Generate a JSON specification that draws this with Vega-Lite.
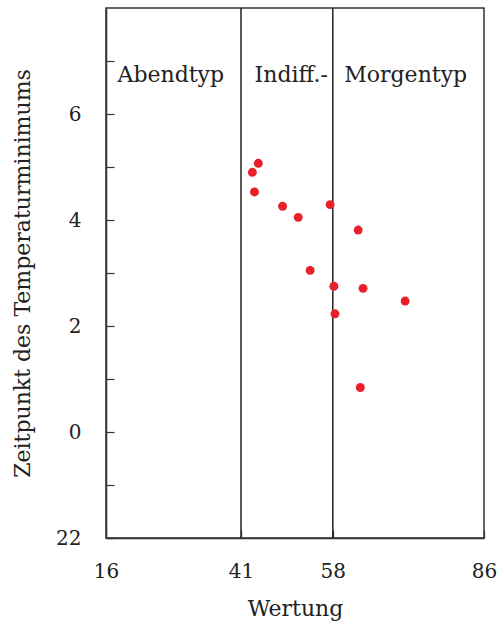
{
  "$schema": "https://vega.github.io/schema/vega-lite/v6.json",
  "width": 378,
  "height": 530,
  "autosize": {"type": "none"},
  "padding": {"left": 106, "top": 8, "right": 15, "bottom": 85},
  "background": "white",
  "datasets": {
    "punkte": [
      {"Wertung": 44.2, "Zeit": 5.07},
      {"Wertung": 43.1, "Zeit": 4.90},
      {"Wertung": 43.5, "Zeit": 4.53},
      {"Wertung": 48.7, "Zeit": 4.26},
      {"Wertung": 57.5, "Zeit": 4.29},
      {"Wertung": 51.6, "Zeit": 4.05},
      {"Wertung": 62.7, "Zeit": 3.81},
      {"Wertung": 53.8, "Zeit": 3.05},
      {"Wertung": 58.2, "Zeit": 2.75},
      {"Wertung": 63.6, "Zeit": 2.71},
      {"Wertung": 71.4, "Zeit": 2.47},
      {"Wertung": 58.4, "Zeit": 2.23},
      {"Wertung": 63.1, "Zeit": 0.84}
    ],
    "grenzen": [{"Wertung": 41}, {"Wertung": 58}],
    "typen": [
      {"Wertung": 28.0, "Zeit": 6.74, "Typ": "Abendtyp"},
      {"Wertung": 50.3, "Zeit": 6.74, "Typ": "Indiff.-"},
      {"Wertung": 71.5, "Zeit": 6.74, "Typ": "Morgentyp"}
    ]
  },
  "config": {
    "view": {"stroke": "#333", "strokeWidth": 1.5},
    "font": "DejaVu Serif",
    "axis": {
      "grid": false,
      "domainColor": "#333",
      "domainWidth": 1.5,
      "tickColor": "#333",
      "tickWidth": 1.2,
      "tickSize": -8,
      "labelFlush": false,
      "labelFont": "DejaVu Serif",
      "labelFontSize": 20,
      "labelColor": "#222",
      "titleFont": "DejaVu Serif",
      "titleFontSize": 22,
      "titleFontWeight": "normal",
      "titleColor": "#222"
    }
  },
  "layer": [
    {
      "data": {"name": "grenzen"},
      "mark": {"type": "rule", "color": "#222", "strokeWidth": 1.5},
      "encoding": {
        "x": {"field": "Wertung", "type": "quantitative", "scale": {"domain": [16, 86], "nice": false, "zero": false}}
      }
    },
    {
      "data": {"name": "punkte"},
      "mark": {"type": "circle", "color": "#e8202a", "opacity": 1, "size": 80},
      "encoding": {
        "x": {
          "field": "Wertung", "type": "quantitative",
          "scale": {"domain": [16, 86], "nice": false, "zero": false},
          "axis": {"values": [16, 41, 58, 86], "title": "Wertung", "labelPadding": 31, "titleX": 189, "titleY": 70, "titleBaseline": "middle", "titleAlign": "center"}
        },
        "y": {
          "field": "Zeit", "type": "quantitative",
          "scale": {"domain": [-2, 8], "nice": false, "zero": false},
          "axis": {
            "values": [-2, -1, 0, 1, 2, 3, 4, 5, 6, 7],
            "labelExpr": "datum.value == -2 ? '22' : (datum.value % 2 == 0 ? datum.label : '')",
            "labelPadding": 33,
            "title": "Zeitpunkt des Temperaturminimums",
            "titleX": -84, "titleY": 265, "titleAngle": -90, "titleBaseline": "middle", "titleAlign": "center"
          }
        }
      }
    },
    {
      "data": {"name": "typen"},
      "mark": {"type": "text", "font": "DejaVu Serif", "fontSize": 22, "color": "#222", "align": "center", "baseline": "middle"},
      "encoding": {
        "x": {"field": "Wertung", "type": "quantitative"},
        "y": {"field": "Zeit", "type": "quantitative"},
        "text": {"field": "Typ"}
      }
    }
  ]
}
